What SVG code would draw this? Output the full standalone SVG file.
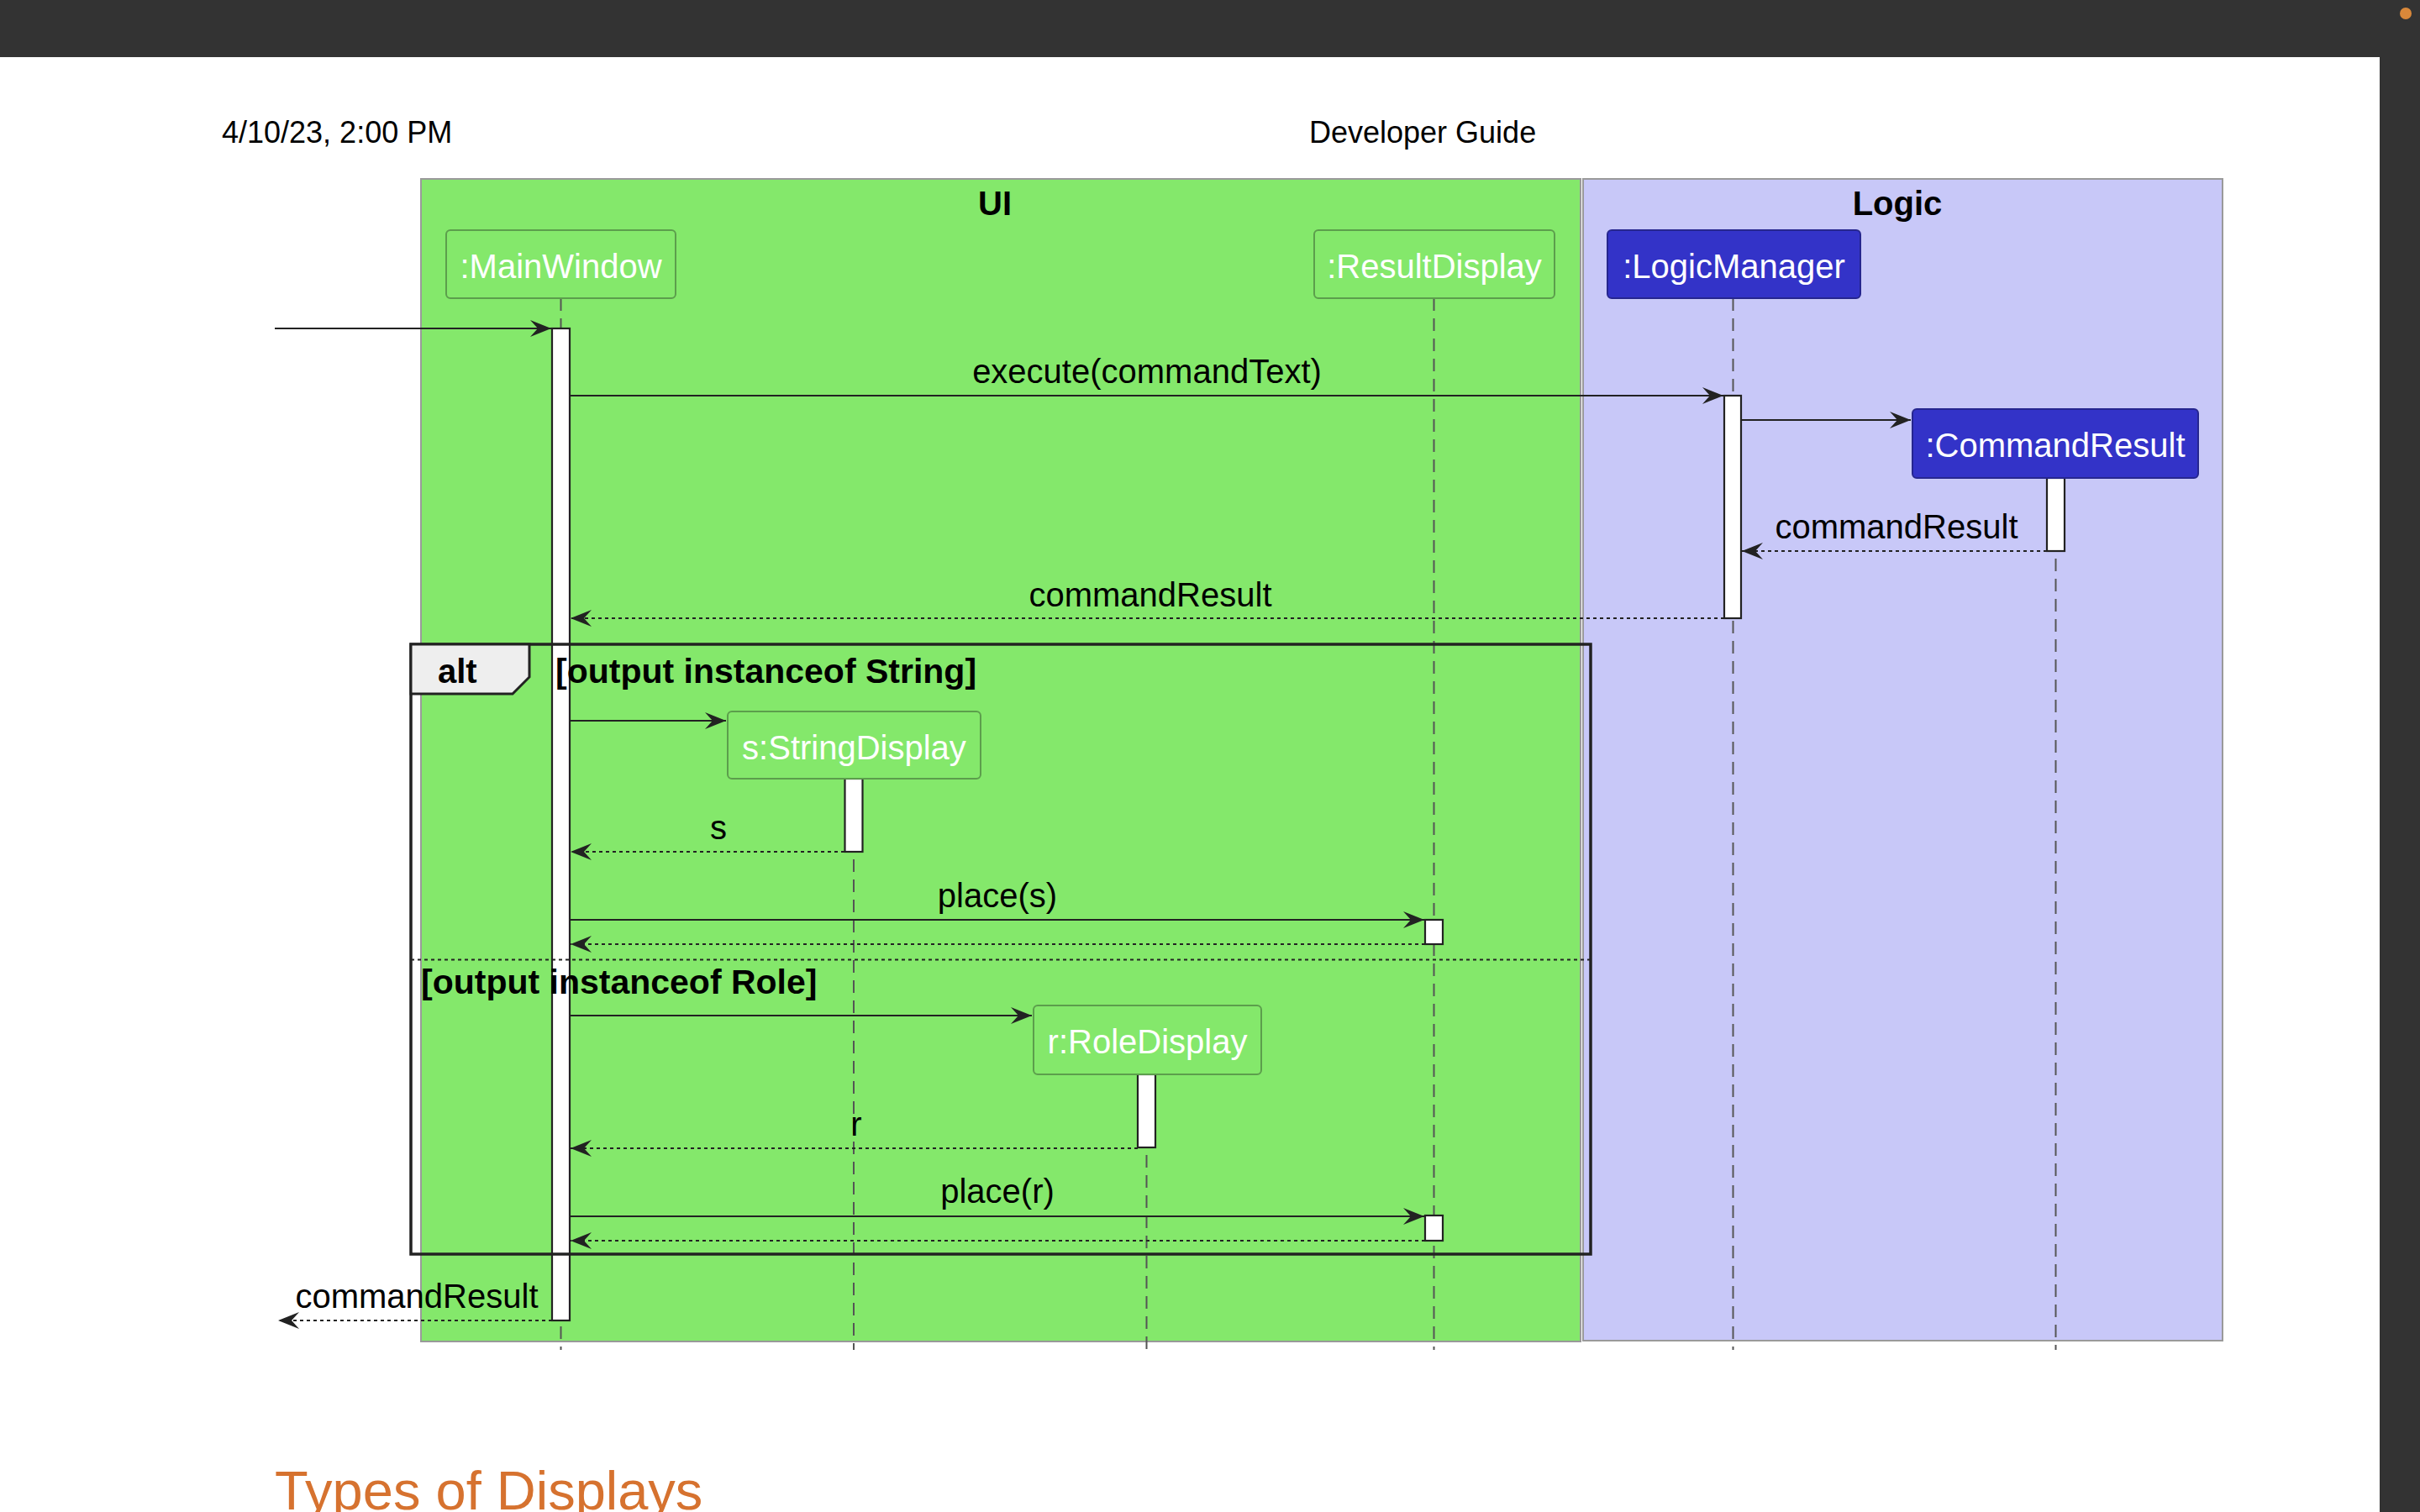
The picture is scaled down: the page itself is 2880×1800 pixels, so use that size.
<svg xmlns="http://www.w3.org/2000/svg" width="2880" height="1800" viewBox="0 0 2880 1800">
<style>
text{font-family:"Liberation Sans",Arial,Helvetica,sans-serif}
.hdr{font-size:36px;fill:#000}
.box-title{font-size:40px;font-weight:bold;fill:#000;text-anchor:middle}
.pname{font-size:40px;fill:#fff;text-anchor:middle}
.msg{font-size:40px;fill:#000;text-anchor:middle}
.guard{font-size:41px;font-weight:bold;fill:#000}
.pg{fill:#84E86B;stroke:#5C9E4C;stroke-width:2}
.pb{fill:#3333C8;stroke:#26268F;stroke-width:2}
.life{stroke:#555;stroke-width:2;stroke-dasharray:15 9;fill:none}
.act{fill:#fff;stroke:#222;stroke-width:2.2}
.call{stroke:#222;stroke-width:2.2;fill:none;marker-end:url(#ah)}
.ret{stroke:#222;stroke-width:2.2;fill:none;stroke-dasharray:4 4;marker-end:url(#ah)}
</style>
<defs>
<marker id="ah" viewBox="-26 -11 27 22" refX="0" refY="0" markerWidth="27" markerHeight="22" markerUnits="userSpaceOnUse" orient="auto">
<path d="M0,0 L-25,-10 L-16,0 L-25,10 Z" fill="#222"/>
</marker>
</defs>
<rect x="0" y="0" width="2880" height="1800" fill="#fff"/>
<rect x="0" y="0" width="2880" height="68" fill="#333"/>
<rect x="2832" y="0" width="48" height="1800" fill="#333"/>
<circle cx="2863" cy="16" r="7" fill="#D9883A"/>
<text class="hdr" x="264" y="170">4/10/23, 2:00 PM</text>
<text class="hdr" x="1558" y="170">Developer Guide</text>
<g id="box-ui">
<rect x="501" y="213" width="1380" height="1384" fill="#84E86B" stroke="#9A9A9A" stroke-width="2"/>
<text class="box-title" x="1184" y="256">UI</text>
</g>
<g id="box-logic">
<rect x="1884" y="213" width="761" height="1383" fill="#C8C8F8" stroke="#9A9A9A" stroke-width="2"/>
<text class="box-title" x="2258" y="256">Logic</text>
</g>
<g id="lifelines">
<line class="life" x1="667.5" y1="355" x2="667.5" y2="1607"/>
<line class="life" x1="1706.5" y1="355" x2="1706.5" y2="1607"/>
<line class="life" x1="2062.5" y1="355" x2="2062.5" y2="1607"/>
<line class="life" x1="2446.5" y1="569" x2="2446.5" y2="1607"/>
<line class="life" x1="1016" y1="927" x2="1016" y2="1607"/>
<line class="life" x1="1364.5" y1="1279" x2="1364.5" y2="1607"/>
</g>
<g id="activations">
<rect class="act" x="657" y="391" width="21" height="1181"/>
<rect class="act" x="2052" y="471" width="20" height="265"/>
<rect class="act" x="2436" y="569" width="21" height="87"/>
<rect class="act" x="1005.5" y="927" width="21" height="87"/>
<rect class="act" x="1354" y="1279" width="21" height="87"/>
<rect class="act" x="1696" y="1095" width="21" height="29"/>
<rect class="act" x="1696" y="1447" width="21" height="30"/>
</g>
<g id="p-mainwindow">
<rect class="pg" x="531" y="274" width="273" height="81" rx="5"/>
<text class="pname" x="667.5" y="331">:MainWindow</text>
</g>
<g id="p-resultdisplay">
<rect class="pg" x="1564" y="274" width="286" height="81" rx="5"/>
<text class="pname" x="1707" y="331">:ResultDisplay</text>
</g>
<g id="p-logicmanager">
<rect class="pb" x="1913" y="274" width="301" height="81" rx="5"/>
<text class="pname" x="2063.5" y="331">:LogicManager</text>
</g>
<g id="p-commandresult">
<rect class="pb" x="2276" y="487" width="340" height="82" rx="5"/>
<text class="pname" x="2446" y="544">:CommandResult</text>
</g>
<g id="p-stringdisplay">
<rect class="pg" x="866" y="847" width="301" height="80" rx="5"/>
<text class="pname" x="1016.5" y="904">s:StringDisplay</text>
</g>
<g id="p-roledisplay">
<rect class="pg" x="1230" y="1197" width="271" height="82" rx="5"/>
<text class="pname" x="1365.5" y="1254">r:RoleDisplay</text>
</g>
<g id="connectors">
<line class="call" x1="327" y1="391" x2="656" y2="391"/>
<line class="call" x1="678" y1="471" x2="2051" y2="471"/>
<text class="msg" x="1365" y="456">execute(commandText)</text>
<line class="call" x1="2072" y1="500" x2="2274" y2="500"/>
<line class="ret" x1="2436" y1="656" x2="2073" y2="656"/>
<text class="msg" x="2257" y="641">commandResult</text>
<line class="ret" x1="2052" y1="736" x2="679" y2="736"/>
<text class="msg" x="1369" y="722">commandResult</text>
<line class="call" x1="678" y1="858" x2="864" y2="858"/>
<line class="ret" x1="1005" y1="1014" x2="679" y2="1014"/>
<text class="msg" x="855" y="999">s</text>
<line class="call" x1="678" y1="1095" x2="1695" y2="1095"/>
<text class="msg" x="1187" y="1080">place(s)</text>
<line class="ret" x1="1696" y1="1124" x2="679" y2="1124"/>
<line class="call" x1="678" y1="1209" x2="1228" y2="1209"/>
<line class="ret" x1="1354" y1="1367" x2="679" y2="1367"/>
<text class="msg" x="1019" y="1352">r</text>
<line class="call" x1="678" y1="1448" x2="1695" y2="1448"/>
<text class="msg" x="1187" y="1432">place(r)</text>
<line class="ret" x1="1696" y1="1477" x2="679" y2="1477"/>
<line class="ret" x1="657" y1="1572" x2="331" y2="1572"/>
<text class="msg" x="496" y="1557">commandResult</text>
</g>
<g id="alt-frame">
<rect x="489" y="767" width="1404" height="726" fill="none" stroke="#222" stroke-width="3.5"/>
<path d="M489,767 L630,767 L630,806 L610,826 L489,826 Z" fill="#EEEEEE" stroke="#222" stroke-width="3"/>
<text class="guard" x="521" y="813" style="font-size:40px">alt</text>
<text class="guard" x="661" y="813">[output instanceof String]</text>
<line x1="489" y1="1142.5" x2="1893" y2="1142.5" stroke="#222" stroke-width="2" stroke-dasharray="4 4"/>
<text class="guard" x="501" y="1183">[output instanceof Role]</text>
</g>
<text x="327" y="1797" style="font-size:65px;fill:#D6722F">Types of Displays</text>
</svg>
